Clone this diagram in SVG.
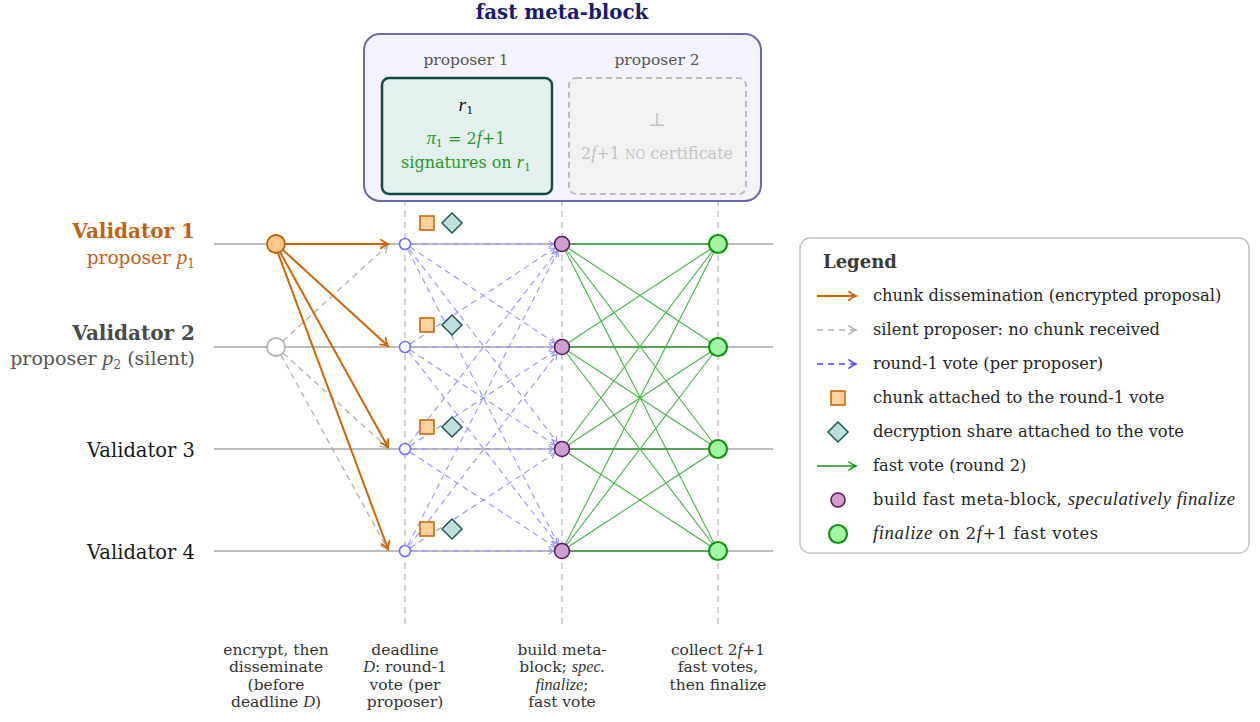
<svg xmlns="http://www.w3.org/2000/svg" width="1260" height="722" viewBox="0 0 1260 722">
<style>
text{font-family:"DejaVu Serif","Liberation Serif",serif;}
.it{font-family:"Liberation Serif","DejaVu Serif",serif;font-style:italic;font-size:1.15em;}
.bi{font-family:"Liberation Serif","DejaVu Serif",serif;font-style:italic;font-size:1.05em;}
.row{stroke:#bdbdbd;stroke-width:2;fill:none;}
.vdash{stroke:#bcbcbc;stroke-width:1.3;stroke-dasharray:6 5;fill:none;}
.org{stroke:#cc6600;stroke-width:2;fill:none;}
.gry{stroke:#b4b4b4;stroke-width:1.4;stroke-dasharray:6 4.5;fill:none;}
.blu{stroke:#9494ff;stroke-width:1.1;stroke-dasharray:6 4.5;fill:none;}
.grn{stroke:#44b444;stroke-width:1.1;fill:none;}
.vote{fill:#fff;stroke:#7070ff;stroke-width:1.6;}
.pur{fill:#cf9fcf;stroke:#5a1a5a;stroke-width:1.6;}
.fin{fill:#a3f7a3;stroke:#129412;stroke-width:2.2;}
.sq{fill:#ffd19f;stroke:#c05f00;stroke-width:1.5;}
.dm{fill:#bfdfdc;stroke:#1e5a55;stroke-width:1.5;}
.bot{font-size:15.5px;fill:#333;text-anchor:middle;}
.leg{font-size:16.3px;fill:#262626;}
</style>
<defs>
<marker id="aO" markerUnits="userSpaceOnUse" markerWidth="12" markerHeight="12" viewBox="-10 -6 12 12" refX="0" refY="0" orient="auto">
<path d="M-7,-4.2 Q-3,-1.2 0,0 Q-3,1.2 -7,4.2" fill="none" stroke="#cc6600" stroke-width="1.8" stroke-linecap="round"/>
</marker>
<marker id="aG" markerUnits="userSpaceOnUse" markerWidth="12" markerHeight="12" viewBox="-10 -6 12 12" refX="0" refY="0" orient="auto">
<path d="M-7,-4.2 Q-3,-1.2 0,0 Q-3,1.2 -7,4.2" fill="none" stroke="#b4b4b4" stroke-width="1.5" stroke-linecap="round"/>
</marker>
<marker id="aB" markerUnits="userSpaceOnUse" markerWidth="12" markerHeight="12" viewBox="-10 -6 12 12" refX="0" refY="0" orient="auto">
<path d="M-5,-3 Q-2.2,-0.9 0,0 Q-2.2,0.9 -5,3" fill="none" stroke="#9494ff" stroke-width="1.1" stroke-linecap="round"/>
</marker>
<marker id="aBL" markerUnits="userSpaceOnUse" markerWidth="12" markerHeight="12" viewBox="-10 -6 12 12" refX="0" refY="0" orient="auto">
<path d="M-7,-4.2 Q-3,-1.2 0,0 Q-3,1.2 -7,4.2" fill="none" stroke="#4a4aff" stroke-width="1.5" stroke-linecap="round"/>
</marker>
<marker id="aGr" markerUnits="userSpaceOnUse" markerWidth="12" markerHeight="12" viewBox="-10 -6 12 12" refX="0" refY="0" orient="auto">
<path d="M-7,-4 Q-3,-1.1 0,0 Q-3,1.1 -7,4" fill="none" stroke="#129412" stroke-width="1.4" stroke-linecap="round"/>
</marker>
</defs>
<rect width="1260" height="722" fill="#fff"/>

<!-- grid -->
<g id="grid">
<line class="vdash" x1="405" y1="200" x2="405" y2="625"/>
<line class="vdash" x1="562" y1="200" x2="562" y2="625"/>
<line class="vdash" x1="718" y1="200" x2="718" y2="625"/>
<line class="row" x1="214" y1="244" x2="773" y2="244"/>
<line class="row" x1="214" y1="347" x2="773" y2="347"/>
<line class="row" x1="214" y1="449" x2="773" y2="449"/>
<line class="row" x1="214" y1="551" x2="773" y2="551"/>
</g>

<!-- meta-block -->
<g id="metablock">
<text x="562" y="19" text-anchor="middle" font-size="19.8" font-weight="bold" fill="#191970">fast meta-block</text>
<rect x="364" y="34" width="397" height="167" rx="16" fill="#f3f3fd" stroke="#6a6aaa" stroke-width="2"/>
<text x="466" y="65" text-anchor="middle" font-size="15.5" fill="#555">proposer 1</text>
<text x="657" y="65" text-anchor="middle" font-size="15.5" fill="#555">proposer 2</text>
</g>
<g id="prop1box">
<rect x="382" y="78" width="170" height="116" rx="7" fill="#e4f0ee" stroke="#0d4d45" stroke-width="2.5"/>
<text x="466" y="111" text-anchor="middle" font-size="17" fill="#111"><tspan class="it">r</tspan><tspan font-size="11.5" dy="3">1</tspan></text>
<text x="466" y="144" text-anchor="middle" font-size="16" fill="#1f9a1f"><tspan class="it">π</tspan><tspan font-size="11" dy="3">1</tspan><tspan dy="-3"> = 2</tspan><tspan class="it">f</tspan><tspan>+1</tspan></text>
<text x="466" y="168" text-anchor="middle" font-size="16" fill="#1f9a1f">signatures on <tspan class="it">r</tspan><tspan font-size="11" dy="3">1</tspan></text>
</g>
<g id="prop2box">
<rect x="569" y="78" width="177" height="116" rx="7" fill="#f2f2f2" stroke="#bdbdbd" stroke-width="2" stroke-dasharray="6 4"/>
<text x="657" y="126" text-anchor="middle" font-size="19" fill="#c4c4c4">⊥</text>
<text x="657" y="159" text-anchor="middle" font-size="16" fill="#c4c4c4">2<tspan class="it">f</tspan>+1 <tspan font-size="12">NO</tspan> certificate</text>
</g>

<!-- validator labels -->
<g id="v1label">
<text x="195" y="238" text-anchor="end" font-size="20" font-weight="bold" fill="#c0631a">Validator 1</text>
<text x="195" y="264" text-anchor="end" font-size="18.5" fill="#c0631a">proposer <tspan class="it">p</tspan><tspan font-size="12" dy="4">1</tspan></text>
</g>
<g id="v2label">
<text x="195" y="340" text-anchor="end" font-size="20" font-weight="bold" fill="#4a4a4a">Validator 2</text>
<text x="195" y="365" text-anchor="end" font-size="19" fill="#555">proposer <tspan class="it">p</tspan><tspan font-size="12" dy="4">2</tspan><tspan dy="-4"> (silent)</tspan></text>
</g>
<g id="v3label"><text x="195" y="457" text-anchor="end" font-size="19.5" fill="#1a1a1a">Validator 3</text></g>
<g id="v4label"><text x="195" y="559" text-anchor="end" font-size="19.5" fill="#1a1a1a">Validator 4</text></g>

<!-- connectors -->
<g id="connectors">
<g id="blue-votes">
<line class="blu" x1="411" y1="244" x2="554" y2="244" marker-end="url(#aB)"/>
<line class="blu" x1="410" y1="247" x2="555" y2="343" marker-end="url(#aB)"/>
<line class="blu" x1="409" y1="249" x2="557" y2="442" marker-end="url(#aB)"/>
<line class="blu" x1="408" y1="250" x2="558" y2="544" marker-end="url(#aB)"/>
<line class="blu" x1="410" y1="344" x2="555" y2="248" marker-end="url(#aB)"/>
<line class="blu" x1="411" y1="347" x2="554" y2="347" marker-end="url(#aB)"/>
<line class="blu" x1="410" y1="350" x2="555" y2="445" marker-end="url(#aB)"/>
<line class="blu" x1="409" y1="352" x2="557" y2="544" marker-end="url(#aB)"/>
<line class="blu" x1="409" y1="444" x2="557" y2="251" marker-end="url(#aB)"/>
<line class="blu" x1="410" y1="446" x2="555" y2="351" marker-end="url(#aB)"/>
<line class="blu" x1="411" y1="449" x2="554" y2="449" marker-end="url(#aB)"/>
<line class="blu" x1="410" y1="452" x2="555" y2="547" marker-end="url(#aB)"/>
<line class="blu" x1="408" y1="545" x2="558" y2="251" marker-end="url(#aB)"/>
<line class="blu" x1="409" y1="546" x2="557" y2="354" marker-end="url(#aB)"/>
<line class="blu" x1="410" y1="548" x2="555" y2="453" marker-end="url(#aB)"/>
<line class="blu" x1="411" y1="551" x2="554" y2="551" marker-end="url(#aB)"/>
</g>
<g id="green-votes">
<line class="grn" x1="562" y1="244" x2="718" y2="244" style="stroke:#3a9a3a;stroke-width:1.6"/>
<line class="grn" x1="562" y1="244" x2="718" y2="347"/>
<line class="grn" x1="562" y1="244" x2="718" y2="449"/>
<line class="grn" x1="562" y1="244" x2="718" y2="551"/>
<line class="grn" x1="562" y1="347" x2="718" y2="244"/>
<line class="grn" x1="562" y1="347" x2="718" y2="347" style="stroke:#3a9a3a;stroke-width:1.6"/>
<line class="grn" x1="562" y1="347" x2="718" y2="449"/>
<line class="grn" x1="562" y1="347" x2="718" y2="551"/>
<line class="grn" x1="562" y1="449" x2="718" y2="244"/>
<line class="grn" x1="562" y1="449" x2="718" y2="347"/>
<line class="grn" x1="562" y1="449" x2="718" y2="449" style="stroke:#3a9a3a;stroke-width:1.6"/>
<line class="grn" x1="562" y1="449" x2="718" y2="551"/>
<line class="grn" x1="562" y1="551" x2="718" y2="244"/>
<line class="grn" x1="562" y1="551" x2="718" y2="347"/>
<line class="grn" x1="562" y1="551" x2="718" y2="449"/>
<line class="grn" x1="562" y1="551" x2="718" y2="551" style="stroke:#3a9a3a;stroke-width:1.6"/>
</g>
<g id="silent">
<line class="gry" x1="283" y1="341" x2="388" y2="245" marker-end="url(#aG)"/>
<line class="gry" x1="283" y1="353" x2="388" y2="448" marker-end="url(#aG)"/>
<line class="gry" x1="281" y1="355" x2="388" y2="550" marker-end="url(#aG)"/>
</g>
<g id="chunks">
<line class="org" x1="285" y1="244" x2="388" y2="244" marker-end="url(#aO)"/>
<line class="org" x1="283" y1="250" x2="388" y2="346" marker-end="url(#aO)"/>
<line class="org" x1="280" y1="252" x2="388" y2="447" marker-end="url(#aO)"/>
<line class="org" x1="278" y1="253" x2="388" y2="549" marker-end="url(#aO)"/>
</g>
</g>

<!-- nodes -->
<g id="p1"><circle cx="276" cy="244" r="9" fill="#ffc68c" stroke="#c05f00" stroke-width="1.8"/></g>
<g id="p2"><circle cx="276" cy="347" r="9" fill="#fff" stroke="#b4b4b4" stroke-width="1.8"/></g>
<g id="vote1"><circle class="vote" cx="405" cy="244" r="5.5"/><rect class="sq" x="420" y="216" width="14" height="14"/><path class="dm" d="M452,213 L462,223 L452,233 L442,223 Z"/></g>
<g id="vote2"><circle class="vote" cx="405" cy="347" r="5.5"/><rect class="sq" x="420" y="318" width="14" height="14"/><path class="dm" d="M452,315 L462,325 L452,335 L442,325 Z"/></g>
<g id="vote3"><circle class="vote" cx="405" cy="449" r="5.5"/><rect class="sq" x="420" y="420" width="14" height="14"/><path class="dm" d="M452,417 L462,427 L452,437 L442,427 Z"/></g>
<g id="vote4"><circle class="vote" cx="405" cy="551" r="5.5"/><rect class="sq" x="420" y="522" width="14" height="14"/><path class="dm" d="M452,519 L462,529 L452,539 L442,529 Z"/></g>
<g id="build1"><circle class="pur" cx="562" cy="244" r="7.5"/></g>
<g id="build2"><circle class="pur" cx="562" cy="347" r="7.5"/></g>
<g id="build3"><circle class="pur" cx="562" cy="449" r="7.5"/></g>
<g id="build4"><circle class="pur" cx="562" cy="551" r="7.5"/></g>
<g id="fin1"><circle class="fin" cx="718" cy="244" r="9"/></g>
<g id="fin2"><circle class="fin" cx="718" cy="347" r="9"/></g>
<g id="fin3"><circle class="fin" cx="718" cy="449" r="9"/></g>
<g id="fin4"><circle class="fin" cx="718" cy="551" r="9"/></g>

<!-- bottom labels -->
<g id="phase1">
<text class="bot" x="276" y="655">encrypt, then</text>
<text class="bot" x="276" y="672">disseminate</text>
<text class="bot" x="276" y="690">(before</text>
<text class="bot" x="276" y="707">deadline <tspan class="bi">D</tspan>)</text>
</g>
<g id="phase2">
<text class="bot" x="405" y="655">deadline</text>
<text class="bot" x="405" y="672"><tspan class="bi">D</tspan>: round-1</text>
<text class="bot" x="405" y="690">vote (per</text>
<text class="bot" x="405" y="707">proposer)</text>
</g>
<g id="phase3">
<text class="bot" x="562" y="655">build meta-</text>
<text class="bot" x="562" y="672">block; <tspan class="bi">spec.</tspan></text>
<text class="bot" x="562" y="690"><tspan class="bi">finalize</tspan>;</text>
<text class="bot" x="562" y="707">fast vote</text>
</g>
<g id="phase4">
<text class="bot" x="718" y="655">collect 2<tspan class="bi">f</tspan>+1</text>
<text class="bot" x="718" y="672">fast votes,</text>
<text class="bot" x="718" y="690">then finalize</text>
</g>

<!-- legend -->
<g id="legend">
<rect x="800" y="238" width="449" height="315" rx="10" fill="#fff" stroke="#c4c4c4" stroke-width="1.5"/>
<text x="823" y="268" font-size="18" font-weight="bold" fill="#3a3a3a">Legend</text>
<line x1="817" y1="296" x2="856" y2="296" stroke="#cc6600" stroke-width="2" marker-end="url(#aO)"/>
<text class="leg" x="873" y="301">chunk dissemination (encrypted proposal)</text>
<line x1="817" y1="330" x2="856" y2="330" stroke="#b4b4b4" stroke-width="1.4" stroke-dasharray="6 5" marker-end="url(#aG)"/>
<text class="leg" x="873" y="335">silent proposer: no chunk received</text>
<line x1="817" y1="364" x2="856" y2="364" stroke="#4a4aff" stroke-width="1.4" stroke-dasharray="6 5" marker-end="url(#aBL)"/>
<text class="leg" x="873" y="369">round-1 vote (per proposer)</text>
<rect class="sq" x="831" y="391" width="14" height="14"/>
<text class="leg" x="873" y="403">chunk attached to the round-1 vote</text>
<path class="dm" d="M838,422 L848,432 L838,442 L828,432 Z"/>
<text class="leg" x="873" y="437">decryption share attached to the vote</text>
<line x1="817" y1="466" x2="856" y2="466" stroke="#129412" stroke-width="1.4" marker-end="url(#aGr)"/>
<text class="leg" x="873" y="471">fast vote (round 2)</text>
<circle class="pur" cx="838" cy="500" r="7"/>
<text class="leg" x="873" y="505" textLength="362" lengthAdjust="spacing">build fast meta-block, <tspan class="it">speculatively finalize</tspan></text>
<circle class="fin" cx="838" cy="534" r="9"/>
<text class="leg" x="873" y="539" textLength="225" lengthAdjust="spacing"><tspan class="it">finalize</tspan> on 2<tspan class="it">f</tspan>+1 fast votes</text>
</g>
</svg>
